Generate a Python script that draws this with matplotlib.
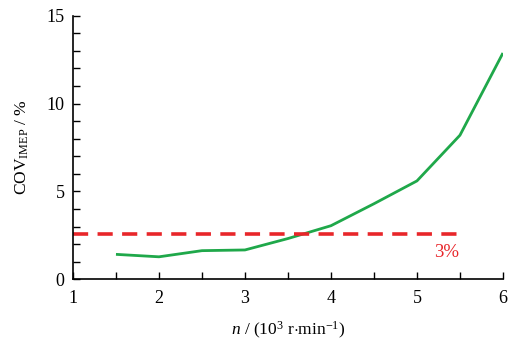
import matplotlib
matplotlib.use("Agg")
import matplotlib.pyplot as plt
from matplotlib.ticker import MultipleLocator

plt.rcParams['font.family'] = ['Liberation Serif', 'DejaVu Serif']
plt.rcParams['mathtext.fontset'] = 'custom'
plt.rcParams['mathtext.rm'] = 'Liberation Serif'
plt.rcParams['mathtext.it'] = 'Liberation Serif:italic'

# Engine speed (10^3 r/min) and cycle-to-cycle variation of IMEP (%)
speed = [1.5, 2.0, 2.5, 3.0, 3.5, 4.0, 4.5, 5.0, 5.5, 6.0]
cov_imep = [1.42, 1.28, 1.63, 1.67, 2.32, 3.05, 4.3, 5.6, 8.2, 12.88]

# Stability limit line
limit_level = 2.6
limit_span = [1.0, 5.5]
limit_label = "3%"

fig = plt.figure(figsize=(5.25, 3.5), dpi=100)
ax = fig.add_axes([0.139, 0.202, 0.819, 0.753])

ax.plot(speed, cov_imep, color='#1fa84a', lw=2.0, solid_capstyle='butt')
ax.plot(limit_span, [limit_level, limit_level], color='#e8262a', lw=2.6,
        dashes=(4.2, 2.6))
ax.text(5.35, 1.55, limit_label, color='#e8262a', fontsize=13.5,
        ha='center', va='center')

ax.set_xlim(1, 6)
ax.set_ylim(0, 15)
ax.xaxis.set_major_locator(MultipleLocator(1))
ax.xaxis.set_minor_locator(MultipleLocator(0.5))
ax.yaxis.set_major_locator(MultipleLocator(5))
ax.yaxis.set_minor_locator(MultipleLocator(1))
ax.tick_params(which='both', direction='in', length=5, width=1,
               labelsize=13, pad=8)
ax.tick_params(axis='y', pad=6)

for s in ['top', 'right']:
    ax.spines[s].set_visible(False)
for s in ['left', 'bottom']:
    ax.spines[s].set_linewidth(1.2)

ax.set_xlabel(r'$n$ / (10$^{3}$ r$\cdot$min$^{-1}$)', fontsize=12.5, labelpad=9)
ax.set_ylabel(r'COV$_{\mathregular{IMEP}}$ / %', fontsize=12.5, labelpad=11)

fig.savefig('out.png', dpi=100)
